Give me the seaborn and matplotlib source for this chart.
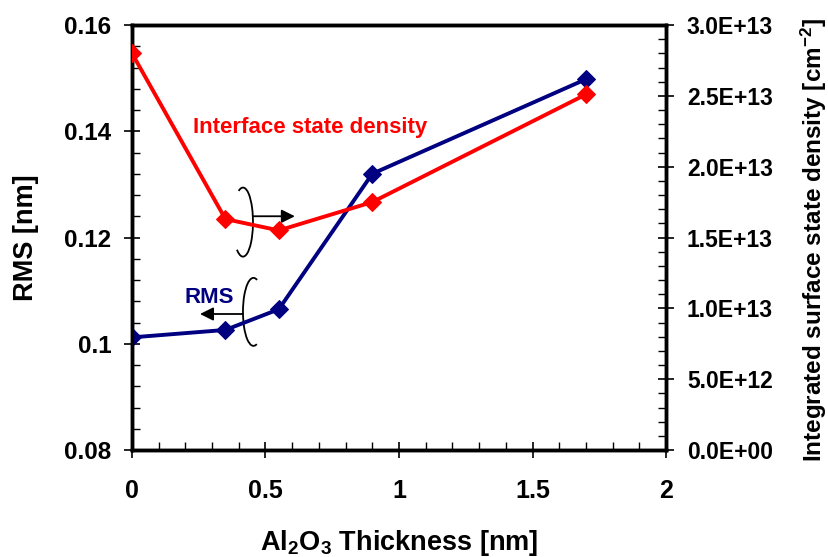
import matplotlib
matplotlib.use("Agg")
import matplotlib.pyplot as plt
import numpy as np
import pandas as pd
import seaborn as sns
from matplotlib.patches import Arc
from matplotlib.ticker import MultipleLocator, FuncFormatter

# Measured data
thickness = [0.0, 0.35, 0.55, 0.9, 1.7]               # Al2O3 thickness [nm]
rms = [0.1012, 0.1026, 0.1065, 0.1320, 0.1498]        # surface roughness RMS [nm]
dit = [2.80e13, 1.63e13, 1.55e13, 1.75e13, 2.51e13]   # integrated surface state density [cm^-2]

x_ticks = [0, 0.5, 1, 1.5, 2]
rms_ticks = [0.08, 0.10, 0.12, 0.14, 0.16]
dit_ticks = [0, 5e12, 1e13, 1.5e13, 2e13, 2.5e13, 3e13]

df = pd.DataFrame({"thickness": thickness, "rms": rms, "dit": dit})

NAVY = "#000080"
RED = "#FF0000"

sns.set_style("white")
plt.rcParams["font.family"] = ["Liberation Sans", "DejaVu Sans"]
plt.rcParams["font.weight"] = "bold"
plt.rcParams["text.color"] = "black"
plt.rcParams["axes.labelcolor"] = "black"
plt.rcParams["xtick.color"] = "black"
plt.rcParams["ytick.color"] = "black"
plt.rcParams["mathtext.fontset"] = "custom"
plt.rcParams["mathtext.rm"] = "Liberation Sans:bold"
plt.rcParams["mathtext.bf"] = "Liberation Sans:bold"
plt.rcParams["mathtext.default"] = "bf"

fig = plt.figure(figsize=(8.29, 5.57), dpi=100)
ax = fig.add_axes([0.1592, 0.1921, 0.6442, 0.7630])
ax2 = ax.twinx()

sns.lineplot(data=df, x="thickness", y="rms", ax=ax, color=NAVY, marker="D",
             markersize=9, markeredgecolor=NAVY, linewidth=2.8, zorder=3)
sns.lineplot(data=df, x="thickness", y="dit", ax=ax2, color=RED, marker="D",
             markersize=9, markeredgecolor=RED, linewidth=2.8, zorder=3)

ax.set_xlim(x_ticks[0], x_ticks[-1])
ax.set_ylim(rms_ticks[0], rms_ticks[-1])
ax2.set_ylim(dit_ticks[0], dit_ticks[-1])

ax.set_xticks(x_ticks)
ax.set_yticks(rms_ticks)
ax2.set_yticks(dit_ticks)
ax.xaxis.set_minor_locator(MultipleLocator(0.1))
ax.yaxis.set_minor_locator(MultipleLocator(0.004))
ax2.yaxis.set_minor_locator(MultipleLocator(1e12))
ax.xaxis.set_major_formatter(FuncFormatter(lambda v, p: f"{v:g}"))
ax.yaxis.set_major_formatter(FuncFormatter(lambda v, p: f"{v:g}"))
ax2.yaxis.set_major_formatter(FuncFormatter(lambda v, p: f"{v:.1E}"))

for a in (ax, ax2):
    for s in a.spines.values():
        s.set_linewidth(2.5)
        s.set_color("black")

ax.tick_params(axis="x", which="major", direction="inout", length=12, width=1.2,
               pad=15, labelsize=18, bottom=True, top=False)
ax.tick_params(axis="y", which="major", direction="inout", length=12, width=1.2,
               pad=9, labelsize=17.5, left=True, right=False)
ax.tick_params(axis="both", which="minor", direction="in", length=6, width=1.0,
               bottom=True, left=True, top=False, right=False)
ax2.tick_params(axis="y", which="major", direction="inout", length=12, width=1.2,
                pad=9, labelsize=16.5, right=True)
ax2.tick_params(axis="y", which="minor", direction="in", length=6, width=1.0, right=True)

ax.set_xlabel(r"Al$_2$O$_3$ Thickness [nm]", fontsize=19.5, fontweight="bold")
ax.xaxis.set_label_coords(0.5, -0.184)
ax.set_ylabel("RMS [nm]", fontsize=19.5, fontweight="bold", va="center")
ax.yaxis.set_label_coords(-0.199, 0.5)
ax2.set_ylabel(r"Integrated surface state density [cm$^{-2}$]", fontsize=17.5,
               fontweight="bold", va="center")
ax2.yaxis.set_label_coords(1.276, 0.495)

# Series labels
ax.text(0.6667, 0.1397, "Interface state density", color=RED, fontsize=16,
        fontweight="bold", ha="center", va="baseline")
ax.text(0.2903, 0.1077, "RMS", color=NAVY, fontsize=16,
        fontweight="bold", ha="center", va="baseline")

# Axis-pointer rings with arrows
ax.add_patch(Arc((0.4157, 0.1229), 0.0749, 0.0130, theta1=193, theta2=160,
                 color="black", lw=1.3, zorder=2))
ax.annotate("", xy=(0.610, 0.1240), xytext=(0.453, 0.1240),
            arrowprops=dict(arrowstyle="-|>", color="black", lw=1.3,
                            mutation_scale=20, shrinkA=0, shrinkB=0))
ax.add_patch(Arc((0.455, 0.1060), 0.0787, 0.0128, theta1=24, theta2=334,
                 color="black", lw=1.3, zorder=2))
ax.annotate("", xy=(0.2547, 0.1056), xytext=(0.4157, 0.1056),
            arrowprops=dict(arrowstyle="-|>", color="black", lw=1.3,
                            mutation_scale=20, shrinkA=0, shrinkB=0))

ax.grid(False)
ax2.grid(False)
fig.savefig("out.png", dpi=100)
